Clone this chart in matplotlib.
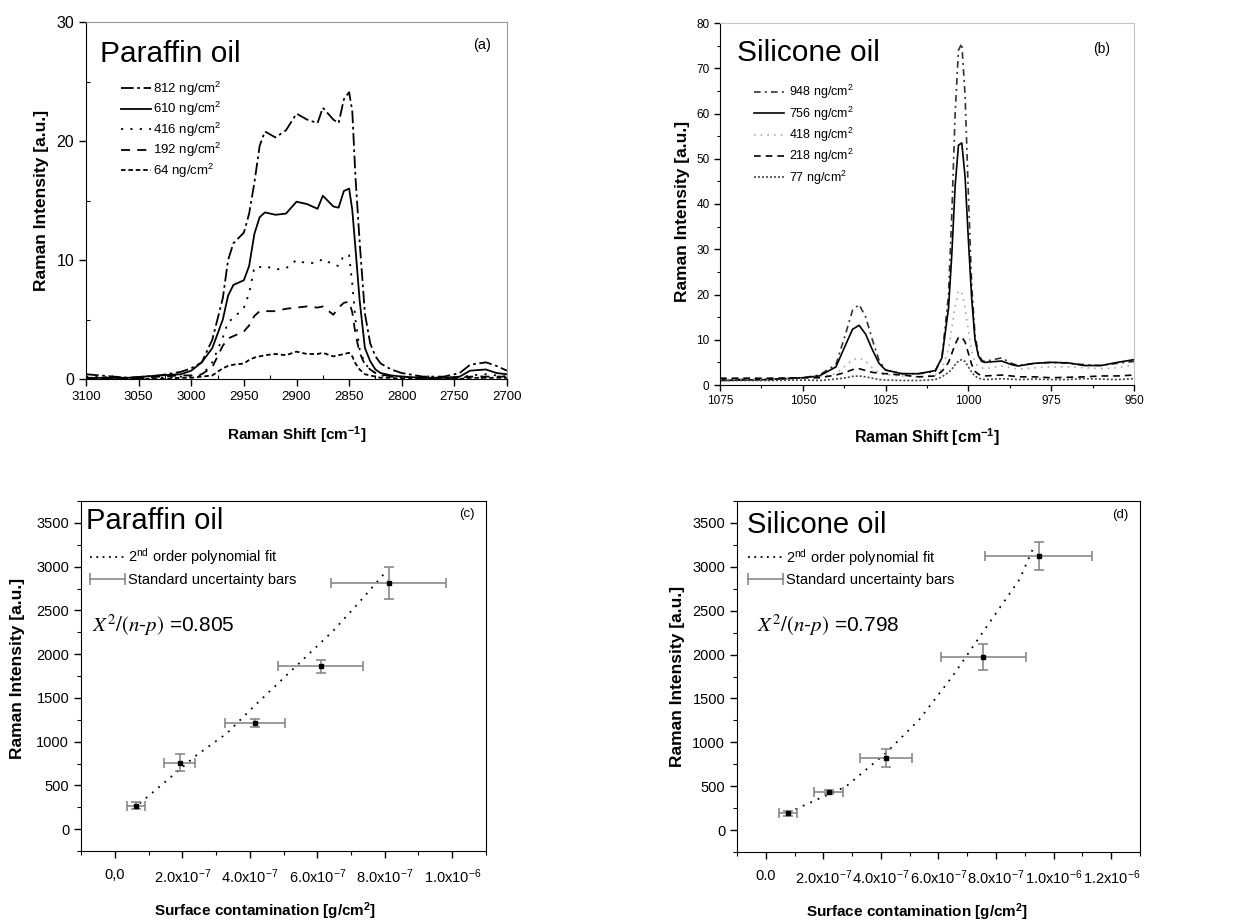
import matplotlib
matplotlib.use("Agg")
import matplotlib.pyplot as plt
import numpy as np
from matplotlib.lines import Line2D
from matplotlib.legend_handler import HandlerLine2D
from matplotlib.ticker import MultipleLocator

plt.rcParams['font.family'] = ['Liberation Sans', 'DejaVu Sans']
plt.rcParams['mathtext.fontset'] = 'stix'

# ---------------- data: panel (a) paraffin oil spectra ----------------
shift_a = [3100, 3060, 3030, 3010, 3000, 2990, 2980, 2970, 2965, 2960, 2950, 2945, 2940,
           2935, 2930, 2920, 2910, 2900, 2890, 2880, 2875, 2865, 2860, 2855, 2850, 2847,
           2844, 2840, 2835, 2830, 2825, 2820, 2810, 2800, 2780, 2760, 2745, 2735, 2720,
           2710, 2700]
par_812 = [0.4, 0.1, 0.3, 0.6, 0.9, 1.4, 3.3, 6.8, 10.0, 11.4, 12.3, 13.9, 16.5, 19.6, 20.8,
           20.3, 20.9, 22.3, 21.8, 21.5, 22.8, 21.8, 21.5, 23.5, 24.1, 22.5, 17.0, 11.5, 5.5,
           3.0, 1.9, 1.3, 0.8, 0.5, 0.2, 0.2, 0.5, 1.2, 1.4, 1.1, 0.7]
par_610 = [0.1, 0.1, 0.3, 0.4, 0.7, 1.4, 2.6, 5.0, 7.0, 7.9, 8.3, 9.5, 12.2, 13.6, 14.0,
           13.8, 13.9, 14.9, 14.7, 14.3, 15.4, 14.5, 14.4, 15.8, 16.0, 14.2, 11.0, 6.6, 2.6,
           1.5, 0.8, 0.5, 0.3, 0.2, 0.1, 0.1, 0.2, 0.7, 0.8, 0.5, 0.4]
par_416 = [0.2, 0.1, 0.1, 0.2, 0.2, 0.3, 1.4, 3.5, 4.8, 5.1, 6.0, 7.2, 9.4, 9.4, 9.5,
           9.2, 9.3, 10.0, 9.7, 9.8, 10.1, 9.6, 9.5, 10.4, 10.4, 8.0, 5.0, 2.5, 1.3,
           0.8, 0.5, 0.3, 0.2, 0.1, 0.1, 0.1, 0.1, 0.3, 0.4, 0.3, 0.2]
par_192 = [0.1, 0.0, 0.2, 0.3, 0.3, 0.4, 1.0, 2.8, 3.4, 3.6, 4.0, 4.5, 5.3, 5.7, 5.7,
           5.7, 5.9, 6.0, 6.1, 6.0, 6.1, 5.4, 6.0, 6.4, 6.5, 5.6, 3.8, 2.2, 1.2,
           0.8, 0.5, 0.4, 0.2, 0.2, 0.1, 0.1, 0.1, 0.2, 0.2, 0.2, 0.2]
par_64 = [0.0, 0.0, 0.0, 0.1, 0.1, 0.2, 0.3, 0.9, 1.1, 1.2, 1.3, 1.6, 1.8, 1.9, 2.0,
          2.1, 2.0, 2.3, 2.1, 2.1, 2.2, 1.9, 2.0, 2.1, 2.2, 1.9, 1.3, 0.8, 0.4,
          0.3, 0.2, 0.1, 0.1, 0.0, 0.0, 0.0, 0.0, 0.1, 0.1, 0.1, 0.1]
labels_a = ['812', '610', '416', '192', '64']

# ---------------- data: panel (b) silicone oil spectra ----------------
shift_b = [1075, 1060, 1050, 1045, 1040, 1037, 1035, 1033, 1031, 1029, 1027, 1025, 1020,
           1015, 1010, 1008, 1006, 1005, 1004, 1003, 1002, 1001, 1000, 999, 998, 997, 996,
           995, 990, 987, 985, 980, 975, 970, 965, 960, 955, 950]
sil_948 = [1.2, 1.3, 1.6, 2.2, 4.5, 11.5, 16.5, 17.8, 15.0, 10.0, 5.5, 3.3, 2.5, 2.5, 3.0,
           6.0, 20, 38, 60, 74, 75.5, 64, 42, 22, 11, 7, 5.5, 5.2, 6.0, 4.8, 4.3, 4.8, 5.0,
           4.8, 4.5, 4.3, 4.8, 5.2]
sil_756 = [1.0, 1.2, 1.6, 2.0, 4.0, 9.0, 12.3, 13.2, 11.2, 7.8, 4.8, 3.3, 2.5, 2.5, 3.2,
           6, 17, 29, 44, 53, 53.5, 46, 32, 19, 10, 6.5, 5.2, 5.0, 5.3, 4.5, 4.2, 4.8, 5.0,
           4.9, 4.3, 4.3, 5.0, 5.6]
sil_418 = [1.2, 1.3, 1.4, 1.8, 2.5, 4.3, 5.6, 6.0, 5.2, 3.8, 2.6, 2.2, 2.0, 1.8, 2.2,
           3.5, 8, 12.5, 17.5, 20.8, 20.5, 17, 12, 7.5, 5, 4, 3.8, 3.6, 4.2, 3.8, 3.5, 3.8,
           4.0, 4.0, 3.8, 3.6, 3.8, 4.5]
sil_218 = [1.5, 1.5, 1.6, 1.6, 2.2, 2.8, 3.4, 3.6, 3.2, 2.8, 2.6, 2.5, 2.2, 1.8, 2.0,
           3.0, 5.0, 7.0, 9.0, 10.5, 10.6, 9.5, 7.0, 4.5, 3.0, 2.4, 2.1, 2.0, 2.2, 2.0,
           1.8, 1.8, 1.6, 1.7, 1.8, 2.0, 2.0, 2.2]
sil_77 = [1.0, 1.0, 1.1, 1.0, 1.3, 1.6, 1.9, 2.0, 1.8, 1.5, 1.2, 1.1, 1.0, 1.0, 1.2,
          1.8, 2.8, 3.5, 4.5, 5.3, 5.6, 5.2, 4.0, 2.8, 2.0, 1.5, 1.3, 1.2, 1.4, 1.3,
          1.2, 1.3, 1.2, 1.2, 1.4, 1.3, 1.2, 1.4]
labels_b = ['948', '756', '418', '218', '77']

# ---------------- data: panel (c) paraffin calibration ----------------
conc_c = [64, 192, 416, 610, 812]            # ng/cm2
int_c = [270, 760, 1215, 1860, 2810]
xerr_c = [27, 46, 88, 127, 170]              # ng/cm2
yerr_c = [35, 95, 45, 75, 185]
fit_x_c = [74, 242, 331, 410, 529, 648, 737, 806]   # ng/cm2
fit_y_c = [293, 844, 1091, 1394, 1832, 2269, 2648, 2953]
chi_c = '0.805'

# ---------------- data: panel (d) silicone calibration ----------------
conc_d = [77, 218, 418, 756, 948]
int_d = [191, 431, 820, 1975, 3126]
xerr_d = [32, 51, 90, 149, 185]
yerr_d = [30, 25, 103, 147, 160]
fit_x_d = [103, 278, 417, 533, 649, 765, 882, 934]
fit_y_d = [237, 495, 877, 1258, 1754, 2307, 2860, 3249]
chi_d = '0.798'

NG = 1e-9  # ng -> g

W, H = 1240, 923
fig = plt.figure(figsize=(W / 100, H / 100), dpi=100)


def add_ax(l, t, r, b):
    return fig.add_axes([l / W, 1 - b / H, (r - l) / W, (b - t) / H])


ax_a = add_ax(86, 22, 507, 379)
ax_b = add_ax(720, 23, 1134, 385)
ax_c = add_ax(81, 501, 486, 851)
ax_d = add_ax(737, 501, 1140, 852)

sup2 = r'$\mathregular{^2}$'

# ---------- panel (a) ----------
styles_a = [(0, (7, 2, 1.5, 2)), '-', (0, (1.2, 4)), (0, (5, 4)), (0, (2.5, 1.6))]
for y, lab, ls in zip([par_812, par_610, par_416, par_192, par_64], labels_a, styles_a):
    ax_a.plot(shift_a, y, color='black', lw=1.3, ls=ls, label=f'{lab} ng/cm' + sup2)
ax_a.set_xlim(3100, 2700)
ax_a.set_ylim(0, 30)
ax_a.xaxis.set_major_locator(MultipleLocator(50))
ax_a.xaxis.set_minor_locator(MultipleLocator(25))
ax_a.yaxis.set_major_locator(MultipleLocator(10))
ax_a.yaxis.set_minor_locator(MultipleLocator(5))
ax_a.legend(loc='upper left', bbox_to_anchor=(0.083, 0.838), frameon=False, fontsize=9.5,
            handlelength=2.3, handletextpad=0.1, labelspacing=0.17, borderpad=0,
            borderaxespad=0)
ax_a.text(0.033, 0.888, 'Paraffin oil', transform=ax_a.transAxes, fontsize=21.5,
          va='baseline', ha='left')
ax_a.text(0.941, 0.936, '(a)', transform=ax_a.transAxes, fontsize=10.5,
          va='center', ha='center')
ax_a.set_xlabel(r'Raman Shift [cm$\mathregular{^{-1}}$]', fontsize=11, fontweight='bold')
ax_a.set_ylabel('Raman Intensity [a.u.]', fontsize=12.5, fontweight='bold')
ax_a.xaxis.set_label_coords(0.5, -0.128)
ax_a.yaxis.set_label_coords(-0.088, 0.5)
for s in ['top', 'right']:
    ax_a.spines[s].set_color('#9a9a9a')
ax_a.tick_params(axis='both', which='major', direction='out', length=5, width=1,
                 labelsize=9.5, top=False, right=False)
ax_a.tick_params(axis='y', which='major', labelsize=11.5)
ax_a.tick_params(axis='both', which='minor', direction='in', length=3, width=0.8,
                 top=False, right=False)

# ---------- panel (b) ----------
styles_b = [((0, (4, 2.5, 1.2, 2.5)), '#333333'), ('-', 'black'), ((0, (1, 3)), '#aaaaaa'),
            ((0, (4, 3)), 'black'), ((0, (1.2, 1.2)), '#444444')]
for y, lab, (ls, c) in zip([sil_948, sil_756, sil_418, sil_218, sil_77], labels_b, styles_b):
    ax_b.plot(shift_b, y, color=c, lw=1.2, ls=ls, label=f'{lab} ng/cm' + sup2)
ax_b.set_xlim(1075, 950)
ax_b.set_ylim(0, 80)
ax_b.xaxis.set_major_locator(MultipleLocator(25))
ax_b.xaxis.set_minor_locator(MultipleLocator(12.5))
ax_b.yaxis.set_major_locator(MultipleLocator(10))
ax_b.yaxis.set_minor_locator(MultipleLocator(5))
ax_b.legend(loc='upper left', bbox_to_anchor=(0.083, 0.834), frameon=False, fontsize=9,
            handlelength=2.4, handletextpad=0.35, labelspacing=0.25, borderpad=0,
            borderaxespad=0)
ax_b.text(0.041, 0.895, 'Silicone oil', transform=ax_b.transAxes, fontsize=21.5,
          va='baseline', ha='left')
ax_b.text(0.923, 0.928, '(b)', transform=ax_b.transAxes, fontsize=10,
          va='center', ha='center')
ax_b.set_xlabel(r'Raman Shift [cm$\mathregular{^{-1}}$]', fontsize=11.5, fontweight='bold')
ax_b.set_ylabel('Raman Intensity [a.u.]', fontsize=12.5, fontweight='bold')
ax_b.xaxis.set_label_coords(0.5, -0.114)
ax_b.yaxis.set_label_coords(-0.072, 0.48)
for s in ['top', 'right']:
    ax_b.spines[s].set_color('#c4c4c4')
ax_b.tick_params(axis='both', which='major', direction='out', length=4, width=1,
                 labelsize=8.5, top=False, right=False)
ax_b.tick_params(axis='both', which='minor', direction='out', length=2.5, width=0.8,
                 top=False, right=False)


# ---------- panels (c) and (d) ----------
def calib(ax, conc, inten, xerr, yerr, fx, fy, title, title_pos, tag, tag_pos, chi,
          chi_pos, xmax, xticks, xlabels, leg_pos, xlab_x, ylab_x, ylab_y):
    x = np.array(conc) * NG
    ax.plot(np.array(fx) * NG, fy, color='black', lw=1.3, ls=(0, (1, 3.5)))
    ax.errorbar(x, inten, xerr=np.array(xerr) * NG, yerr=yerr, fmt='s', color='black',
                ms=3.5, ecolor='#808080', elinewidth=1.1, capsize=3.5, capthick=1.1)
    ax.set_xlim(-1e-7, xmax)
    ax.set_ylim(-250, 3750)
    ax.set_xticks(xticks)
    ax.set_xticklabels(xlabels)
    ax.xaxis.set_minor_locator(MultipleLocator(1e-7))
    ax.yaxis.set_major_locator(MultipleLocator(500))
    ax.yaxis.set_minor_locator(MultipleLocator(250))
    ax.tick_params(axis='both', which='major', direction='out', length=5, width=1,
                   labelsize=10.5, top=False, right=False)
    ax.tick_params(axis='both', which='minor', direction='out', length=3, width=0.8,
                   top=False, right=False)
    ax.tick_params(axis='x', which='major', pad=7)
    h_fit = Line2D([], [], color='black', lw=1.3, ls=(0, (1, 2.5)))
    h_err = Line2D([], [], color='#808080', lw=1.1, marker='|', ms=9, mew=1.1)
    ax.legend([h_fit, h_err], ['2' + r'$\mathregular{^{nd}}$' + ' order polynomial fit',
                               'Standard uncertainty bars'],
              handler_map={h_err: HandlerLine2D(numpoints=2, marker_pad=0)},
              loc='upper left', bbox_to_anchor=leg_pos, frameon=False, fontsize=10.5,
              handlelength=2.4, handletextpad=0.2, labelspacing=0.4, borderpad=0,
              borderaxespad=0)
    ax.text(title_pos[0], title_pos[1], title, transform=ax.transAxes, fontsize=21,
            va='baseline', ha='left')
    ax.text(tag_pos[0], tag_pos[1], tag, transform=ax.transAxes, fontsize=9.5,
            va='center', ha='center')
    ax.text(chi_pos[0], chi_pos[1], r'$X^{2}/(n$-$p)$ =' + chi, transform=ax.transAxes,
            fontsize=15, va='baseline', ha='left')
    ax.set_xlabel(r'Surface contamination [g/cm$\mathregular{^2}$]', fontsize=11,
                  fontweight='bold')
    ax.set_ylabel('Raman Intensity [a.u.]', fontsize=12.5, fontweight='bold')
    ax.xaxis.set_label_coords(xlab_x, -0.142)
    ax.yaxis.set_label_coords(ylab_x, ylab_y)


def sci(v, e):
    return f'{v}x10' + r'$\mathregular{^{' + e + '}}$'


calib(ax_c, conc_c, int_c, xerr_c, yerr_c, fit_x_c, fit_y_c, 'Paraffin oil', (0.012, 0.919),
      '(c)', (0.953, 0.963), chi_c, (0.027, 0.626), 1.1e-6,
      [0, 2e-7, 4e-7, 6e-7, 8e-7, 1e-6],
      ['0,0', sci('2.0', '-7'), sci('4.0', '-7'), sci('6.0', '-7'), sci('8.0', '-7'),
       sci('1.0', '-6')],
      (0.022, 0.87), 0.454, -0.138, 0.523)
calib(ax_d, conc_d, int_d, xerr_d, yerr_d, fit_x_d, fit_y_d, 'Silicone oil', (0.024, 0.908),
      '(d)', (0.95, 0.96), chi_d, (0.05, 0.627), 1.3e-6,
      [0, 2e-7, 4e-7, 6e-7, 8e-7, 1e-6, 1.2e-6],
      ['0.0', sci('2.0', '-7'), sci('4.0', '-7'), sci('6.0', '-7'), sci('8.0', '-7'),
       sci('1.0', '-6'), sci('1.2', '-6')],
      (0.027, 0.87), 0.447, -0.13, 0.5)

fig.savefig('out.png', dpi=100)
